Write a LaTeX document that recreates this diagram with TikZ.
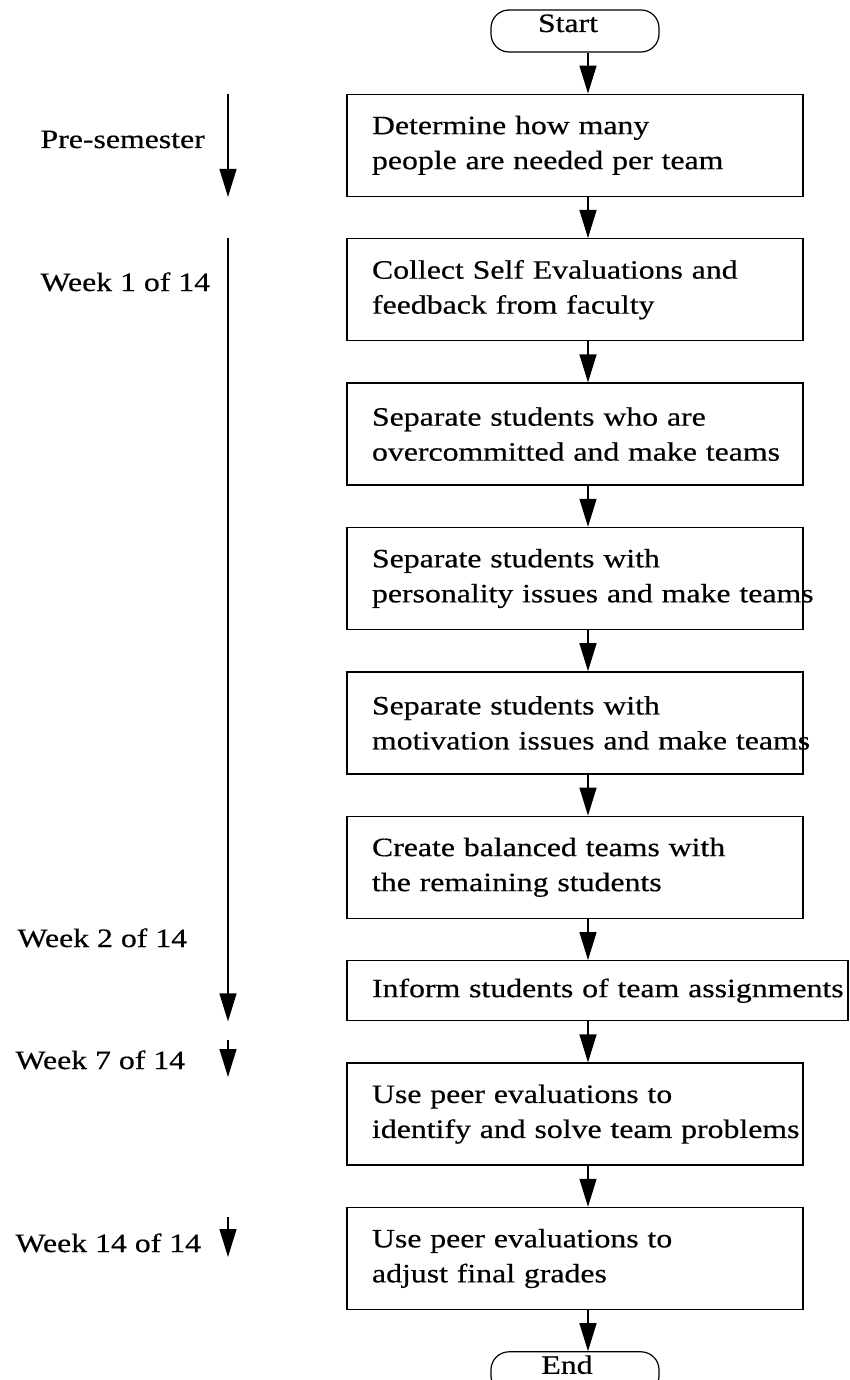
\documentclass[tikz,border=0pt]{standalone}
\usepackage{fontspec}
\setmainfont{Liberation Serif}[FakeStretch=1.2, FakeBold=0.5]
\usepackage{tikz}
\usetikzlibrary{arrows.meta, positioning}
\tikzset{
  arrowK/.style={-{Triangle[length=28pt, width=17pt]}, line width=1.3pt},
  boxStep/.style={rectangle, draw, line width=1.4pt, text width=406pt,
                  align=left, inner xsep=25pt, inner ysep=0pt, minimum height=102pt},
  boxTerm/.style={rectangle, rounded corners=18pt, draw, line width=1.2pt,
                  minimum width=168pt, inner ysep=3pt, text height=19pt, text depth=17pt},
  weekLabel/.style={anchor=base west},
}
\begin{document}
\begin{tikzpicture}[x=1pt, y=-1pt, node distance=41pt,
    font=\fontsize{26.5pt}{35pt}\selectfont]
    \useasboundingbox (0,0) rectangle (850,1380);
    % flow
    \node[boxTerm] (start) at (575,31) {Start\hspace*{14pt}};
    \node[boxStep, below=of start] (b1) {Determine how many\\people are needed per team};
    \node[boxStep, below=of b1] (b2) {Collect Self Evaluations and\\feedback from faculty};
    \node[boxStep, below=of b2] (b3) {Separate students who are\\\mbox{overcommitted and make teams}};
    \node[boxStep, below=of b3] (b4) {Separate students with\\\mbox{personality issues and make teams}};
    \node[boxStep, below=of b4] (b5) {Separate students with\\\mbox{motivation issues and make teams}};
    \node[boxStep, below=of b5] (b6) {Create balanced teams with\\the remaining students};
    \node[boxStep, text width=451pt, minimum height=60pt,
          below=of b6.south west, anchor=north west] (b7) {\mbox{Inform students of team assignments}};
    \node[boxStep, below=of b7.south west, anchor=north west] (b8) {Use peer evaluations to\\\mbox{identify and solve team problems}};
    \node[boxStep, below=of b8] (b9) {Use peer evaluations to\\adjust final grades};
    \node[boxTerm, below=of b9] (end) {End\hspace*{16pt}};
    \coordinate (ax) at (588,0);
    \draw[arrowK] (start.south -| ax) -- (b1.north -| ax);
    \draw[arrowK] (b1.south -| ax) -- (b2.north -| ax);
    \draw[arrowK] (b2.south -| ax) -- (b3.north -| ax);
    \draw[arrowK] (b3.south -| ax) -- (b4.north -| ax);
    \draw[arrowK] (b4.south -| ax) -- (b5.north -| ax);
    \draw[arrowK] (b5.south -| ax) -- (b6.north -| ax);
    \draw[arrowK] (b6.south -| ax) -- (b7.north -| ax);
    \draw[arrowK] (b7.south -| ax) -- (b8.north -| ax);
    \draw[arrowK] (b8.south -| ax) -- (b9.north -| ax);
    \draw[arrowK] (b9.south -| ax) -- (end.north -| ax);
    % timeline
    \node[weekLabel] (lPre) at (37,148) {Pre-semester};
    \node[weekLabel] (lW1) at (37,291) {Week 1 of 14};
    \node[weekLabel] (lW2) at (14,947) {Week 2 of 14};
    \node[weekLabel] (lW7) at (12,1069) {Week 7 of 14};
    \node[weekLabel] (lW14) at (12,1252) {Week 14 of 14};
    \coordinate (tx) at (228,0);
    \coordinate (w7a) at (228,1040);
    \coordinate (w7b) at (228,1077);
    \coordinate (w14a) at (228,1217);
    \coordinate (w14b) at (228,1257);
    \draw[arrowK] (b1.north -| tx) -- (b1.south -| tx);
    \draw[arrowK] (b2.north -| tx) -- (b7.south -| tx);
    \draw[arrowK] (w7a) -- (w7b);
    \draw[arrowK] (w14a) -- (w14b);
  \end{tikzpicture}
\end{document}
